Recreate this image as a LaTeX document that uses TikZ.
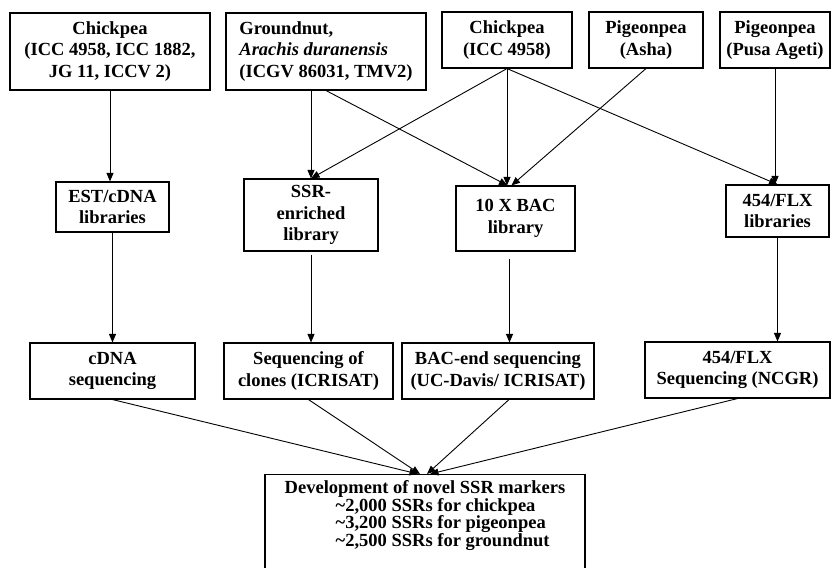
\documentclass[tikz,border=0pt]{standalone}
\usepackage{fontspec}
\setmainfont{Liberation Serif}
\usetikzlibrary{arrows.meta}

\begin{document}
\begin{tikzpicture}[x=1pt,y=-1pt,
  box/.style={draw,line width=1.1pt,inner sep=2pt,align=center,
    font=\fontsize{18.5}{21.7}\selectfont\bfseries},
  arr/.style={line width=0.9pt,-{Triangle[length=8.5pt,width=7pt]}}]
\useasboundingbox (0,0) rectangle (831,568);

% sources
\node[box,minimum width=200pt,minimum height=77pt] (chk) at (110,51.5) {Chickpea\\(ICC 4958, ICC 1882,\\JG 11, ICCV 2)};
\node[box,align=left,minimum width=200pt,minimum height=77pt] (gnut) at (326,51.5) {Groundnut,\\\textit{Arachis duranensis}\\(ICGV 86031, TMV2)};
\node[box,minimum width=130pt,minimum height=56pt] (chkb) at (507,40) {Chickpea\\(ICC 4958)};
\node[box,minimum width=114pt,minimum height=56pt] (asha) at (646,40) {Pigeonpea\\(Asha)};
\node[box,minimum width=110pt,minimum height=56pt] (pusa) at (775,40) {Pigeonpea\\(Pusa Ageti)};

% libraries
\node[box,minimum width=113pt,minimum height=50pt] (est) at (112.5,207) {EST/cDNA\\libraries};
\node[box,minimum width=134pt,minimum height=72pt] (ssr) at (311,215) {SSR-\\enriched\\library};
\node[box,minimum width=119pt,minimum height=65pt] (bac) at (515.5,218.5) {10 X BAC\\library};
\node[box,minimum width=103pt,minimum height=52pt] (flx) at (777.5,211) {454/FLX\\libraries};

% sequencing
\node[box,minimum width=165pt,minimum height=56pt] (cseq) at (112.5,371) {cDNA\\sequencing};
\node[box,minimum width=169pt,minimum height=56pt] (clon) at (308.5,371) {Sequencing of\\clones (ICRISAT)};
\node[box,minimum width=192pt,minimum height=56pt] (bace) at (498,371) {BAC-end sequencing\\(UC-Davis/ ICRISAT)};
\node[box,minimum width=185pt,minimum height=56pt] (flxs) at (737.5,370) {454/FLX\\Sequencing (NCGR)};

\node[box,align=left,anchor=north,minimum width=320pt,text depth=40pt,
  font=\fontsize{18.5}{17.6}\selectfont\bfseries] (dev) at (425,474)
  {\rule{0pt}{17pt}Development of novel SSR markers\\
   \hspace*{51pt}\textasciitilde2,000 SSRs for chickpea\\
   \hspace*{51pt}\textasciitilde3,200 SSRs for pigeonpea\\
   \hspace*{51pt}\textasciitilde2,500 SSRs for groundnut};

\coordinate (bacout) at ([xshift=-6pt]bac.south);

\draw[arr] (chk.south) -- (chk.south |- est.north);
\draw[arr] (ssr.north |- gnut.south) -- (ssr.north);
\draw[arr] (gnut.south) -- ([xshift=-8pt]bac.north);
\draw[arr] (chkb.south) -- (ssr.north);
\draw[arr] (chkb.south) -- (chkb.south |- bac.north);
\draw[arr] (chkb.south) -- (flx.north);
\draw[arr] (asha.south) -- ([xshift=-4pt]bac.north);
\draw[arr] (pusa.south) -- (pusa.south |- flx.north);

\draw[arr] (est.south) -- (est.south |- cseq.north);
\draw[arr,shorten <=3pt] (ssr.south) -- (ssr.south |- clon.north);
\draw[arr,shorten <=7pt] (bacout) -- (bacout |- bace.north);
\draw[arr] (flx.south) -- (flx.south |- flxs.north);

\draw[arr] (cseq.south) -- ([xshift=-7pt]dev.north);
\draw[arr] (clon.south) -- ([xshift=-5pt]dev.north);
\draw[arr] ([xshift=11pt]bace.south) -- ([xshift=2pt]dev.north);
\draw[arr] (flxs.south) -- ([xshift=5pt]dev.north);
\end{tikzpicture}
\end{document}
